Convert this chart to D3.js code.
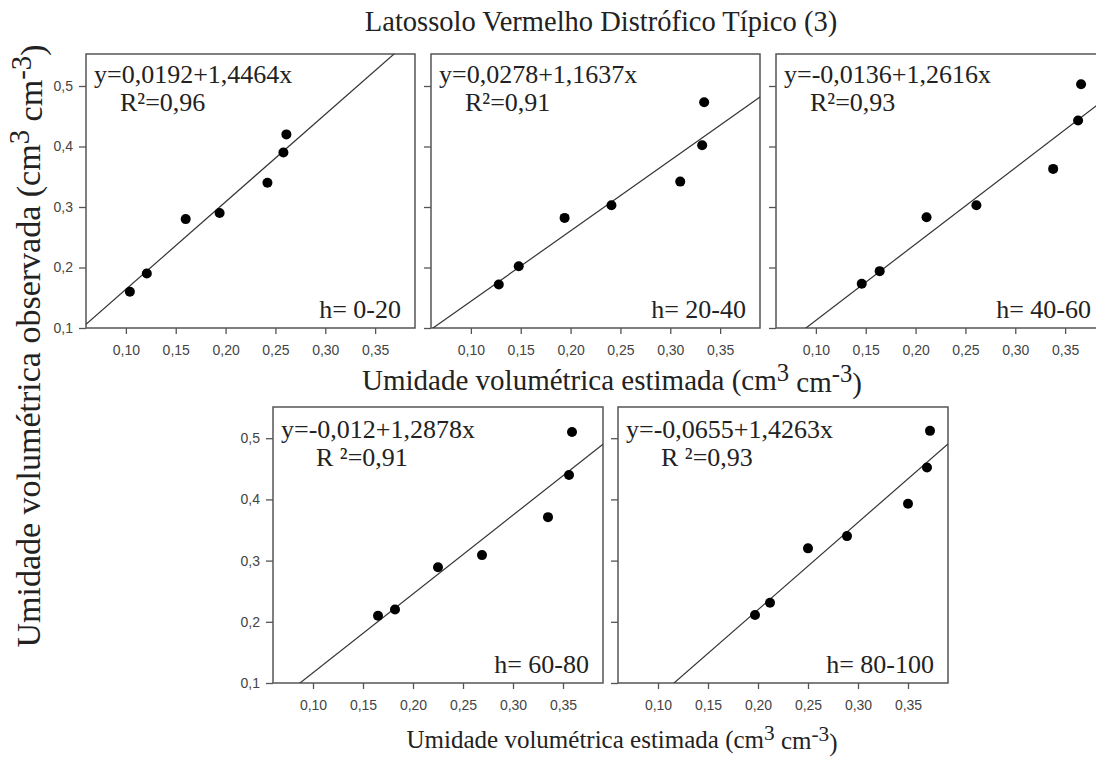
<!DOCTYPE html>
<html>
<head>
<meta charset="utf-8">
<script src="https://cdn.jsdelivr.net/npm/d3@7"></script>
<style>
  body { margin: 0; background: #fff; }
  svg { display: block; }
  .tick text { font-family: "Liberation Sans", Arial, sans-serif; font-size: 14px; fill: #444; }
  .tick line { stroke: #555; stroke-width: 1.3; }
  .serif { font-family: "Liberation Serif", "Times New Roman", serif; fill: #222; }
</style>
</head>
<body>
<svg id="canvas" width="1096" height="758"></svg>
<script>
// regression data per depth layer
var depthLabels = ["h= 0-20", "h= 20-40", "h= 40-60", "h= 60-80", "h= 80-100"];
var eqLabels = ["y=0,0192+1,4464x", "y=0,0278+1,1637x", "y=-0,0136+1,2616x", "y=-0,012+1,2878x", "y=-0,0655+1,4263x"];
var r2Labels = ["R\u00b2=0,96", "R\u00b2=0,91", "R\u00b2=0,93", "R \u00b2=0,91", "R \u00b2=0,93"];
var intercepts = [0.0192, 0.0278, -0.0136, -0.012, -0.0655];
var slopes = [1.4464, 1.1637, 1.2616, 1.2878, 1.4263];

var estimated = [
  [0.104, 0.121, 0.160, 0.194, 0.242, 0.258, 0.261],
  [0.128, 0.148, 0.194, 0.241, 0.310, 0.332, 0.334],
  [0.146, 0.164, 0.211, 0.261, 0.338, 0.363, 0.366],
  [0.165, 0.182, 0.225, 0.269, 0.335, 0.356, 0.359],
  [0.197, 0.212, 0.250, 0.289, 0.350, 0.369, 0.372]
];
var observed = [
  [0.16, 0.19, 0.28, 0.29, 0.34, 0.39, 0.42],
  [0.172, 0.202, 0.282, 0.303, 0.342, 0.402, 0.473],
  [0.173, 0.194, 0.283, 0.303, 0.363, 0.443, 0.503],
  [0.21, 0.22, 0.289, 0.309, 0.371, 0.44, 0.51],
  [0.211, 0.231, 0.32, 0.34, 0.393, 0.452, 0.512]
];

var xTicks = [0.10, 0.15, 0.20, 0.25, 0.30, 0.35];
var yTicks = [0.1, 0.2, 0.3, 0.4, 0.5];

var svg = d3.select("#canvas");

// panel frames: left, top, width, height, show y labels
var panels = [
  {x: 86, y: 54, w: 329, h: 274, yLab: true},
  {x: 431, y: 54, w: 329, h: 274, yLab: false},
  {x: 776, y: 54, w: 329, h: 274, yLab: false},
  {x: 273, y: 407, w: 330, h: 276, yLab: true},
  {x: 618, y: 407, w: 330, h: 276, yLab: false}
];

var comma = function(f) { return function(d) { return d3.format(f)(d).replace(".", ","); }; };

panels.forEach(function(p, i) {
  var x = d3.scaleLinear().domain([0.06, 0.39]).range([0, p.w]);
  var y = d3.scaleLinear().domain([0.1, 0.1 + p.h / (i < 3 ? 605 : 612)]).range([p.h, 0]);

  var g = svg.append("g").attr("transform", "translate(" + p.x + "," + p.y + ")");

  g.append("clipPath").attr("id", "clip" + i)
    .append("rect").attr("width", p.w).attr("height", p.h);

  var ax = g.append("g").attr("transform", "translate(0," + p.h + ")")
    .call(d3.axisBottom(x).tickValues(xTicks).tickSize(6).tickPadding(11).tickFormat(comma(".2f")));
  ax.select(".domain").remove();

  var ay = g.append("g")
    .call(d3.axisLeft(y).tickValues(yTicks).tickSize(7).tickPadding(6)
      .tickFormat(p.yLab ? comma(".1f") : ""));
  ay.select(".domain").remove();

  g.append("rect")
    .attr("width", p.w).attr("height", p.h)
    .attr("fill", "none").attr("stroke", "#555").attr("stroke-width", 1.5);

  var x0 = x.domain()[0], x1 = x.domain()[1];
  g.append("line")
    .attr("clip-path", "url(#clip" + i + ")")
    .attr("x1", x(x0)).attr("y1", y(intercepts[i] + slopes[i] * x0))
    .attr("x2", x(x1)).attr("y2", y(intercepts[i] + slopes[i] * x1))
    .attr("stroke", "#333").attr("stroke-width", 1.2);

  g.selectAll("circle")
    .data(estimated[i].map(function(v, j) { return [v, observed[i][j]]; }))
    .enter().append("circle")
    .attr("cx", function(d) { return x(d[0]); })
    .attr("cy", function(d) { return y(d[1]); })
    .attr("r", 5)
    .attr("fill", "#000");

  var top = i < 3;
  g.append("text").attr("class", "serif")
    .attr("x", 8).attr("y", top ? 29 : 31)
    .style("font-size", "26px")
    .text(eqLabels[i]);
  g.append("text").attr("class", "serif")
    .attr("x", top ? 34 : 43).attr("y", top ? 57 : 59)
    .style("font-size", "26px")
    .text(r2Labels[i]);
  g.append("text").attr("class", "serif")
    .attr("x", p.w - 14).attr("y", p.h - 10)
    .attr("text-anchor", "end")
    .style("font-size", "26px")
    .text(depthLabels[i]);
});

// titles
svg.append("text").attr("class", "serif")
  .attr("x", 601).attr("y", 31)
  .attr("text-anchor", "middle")
  .style("font-size", "28.5px")
  .text("Latossolo Vermelho Distrófico Típico (3)");

function unitTitle(sel) {
  sel.append("tspan").text(sel.attr("data-t") + " (cm");
  sel.append("tspan").attr("dy", "-0.38em").style("font-size", "0.85em").text("3");
  sel.append("tspan").attr("dy", "0.38em").text(" cm");
  sel.append("tspan").attr("dy", "-0.38em").style("font-size", "0.85em").text("-3");
  sel.append("tspan").attr("dy", "0.38em").text(")");
}

svg.append("text").attr("class", "serif")
  .attr("x", 612).attr("y", 390)
  .attr("text-anchor", "middle")
  .style("font-size", "29px")
  .attr("data-t", "Umidade volumétrica estimada")
  .call(unitTitle);

svg.append("text").attr("class", "serif")
  .attr("x", 622).attr("y", 748)
  .attr("text-anchor", "middle")
  .style("font-size", "25px")
  .attr("data-t", "Umidade volumétrica estimada")
  .call(unitTitle);

svg.append("text").attr("class", "serif")
  .attr("transform", "translate(40,346) rotate(-90)")
  .attr("text-anchor", "middle")
  .style("font-size", "34px")
  .attr("data-t", "Umidade volumétrica observada")
  .call(unitTitle);
</script>
</body>
</html>
